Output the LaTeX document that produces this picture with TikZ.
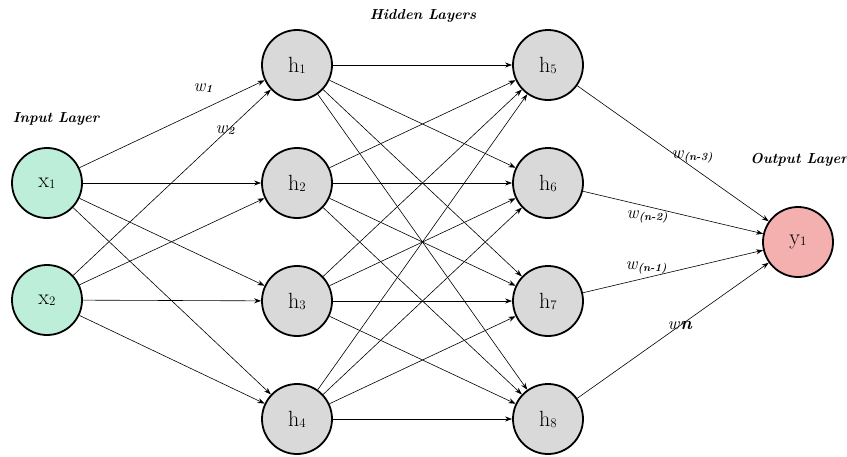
\documentclass[tikz,border=0pt]{standalone}
\usetikzlibrary{arrows.meta}
\definecolor{inputfill}{HTML}{BDEEDA}
\definecolor{hiddenfill}{HTML}{D9D9D9}
\definecolor{outputfill}{HTML}{F4B0AF}
\newcommand{\nsub}[2]{#1\raisebox{-1pt}{\fontsize{13}{13}\selectfont #2}}
\newcommand{\wlab}[1]{\textit{w}\raisebox{-1.5pt}{\fontsize{11}{11}\selectfont\bfseries\itshape #1}}
\begin{document}
\begin{tikzpicture}[x=1pt,y=-1pt,
  neuron/.style={circle,draw,line width=1.8pt,minimum size=70pt,inner sep=0pt,
    font=\fontsize{22}{24}\selectfont},
  innode/.style={neuron,fill=inputfill},
  hidnode/.style={neuron,fill=hiddenfill},
  outnode/.style={neuron,fill=outputfill},
  edge/.style={line width=0.6pt,-{Stealth[length=7pt,width=5pt]}},
  layerlab/.style={font=\fontsize{14.5}{17}\selectfont\bfseries\itshape},
  wlabel/.style={font=\fontsize{18}{20}\selectfont,inner sep=1pt}]
\useasboundingbox (0,0) rectangle (847,456);

% input layer
\node[innode] (x1) at (47,183) {\nsub{x}{1}};
\node[innode] (x2) at (47,300) {\nsub{x}{2}};

% first hidden layer
\node[hidnode] (h1) at (297,65)  {\nsub{h}{1}};
\node[hidnode] (h2) at (297,183) {\nsub{h}{2}};
\node[hidnode] (h3) at (297,301) {\nsub{h}{3}};
\node[hidnode] (h4) at (297,419) {\nsub{h}{4}};

% second hidden layer
\node[hidnode] (h5) at (548,65)  {\nsub{h}{5}};
\node[hidnode] (h6) at (548,183) {\nsub{h}{6}};
\node[hidnode] (h7) at (548,301) {\nsub{h}{7}};
\node[hidnode] (h8) at (548,419) {\nsub{h}{8}};

% output layer
\node[outnode] (y1) at (798,242) {\nsub{y}{1}};

% connections
\foreach \i in {x1,x2}
  \foreach \j in {h1,h2,h3,h4}
    \draw[edge] (\i) -- (\j);
\foreach \i in {h1,h2,h3,h4}
  \foreach \j in {h5,h6,h7,h8}
    \draw[edge] (\i) -- (\j);
\foreach \i in {h5,h6,h7,h8}
  \draw[edge] (\i) -- (y1);

% layer titles
\node[layerlab] (tin)  at (56,119)  {Input Layer};
\node[layerlab] (thid) at (423,16)  {Hidden Layers};
\node[layerlab] (tout) at (799,160) {Output Layer};

% weight labels
\node[wlabel] (w1) at (203,88)  {\wlab{1}};
\node[wlabel] (w2) at (225,130) {\wlab{2}};
\node[wlabel] (wa) at (692,157) {\wlab{(n-3)}};
\node[wlabel] (wb) at (647,217) {\wlab{(n-2)}};
\node[wlabel] (wc) at (646,268) {\wlab{(n-1)}};
\node[wlabel] (wd) at (680,326) {\textit{w}\textbf{\textit{n}}};
\end{tikzpicture}
\end{document}
